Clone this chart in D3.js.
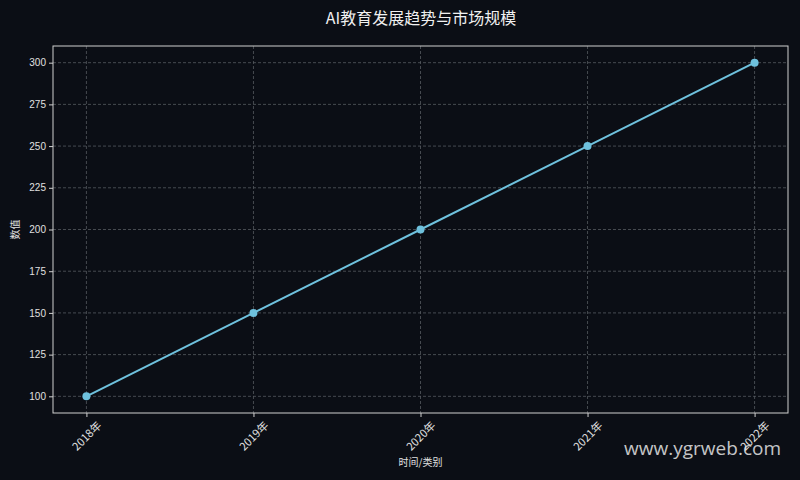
<!DOCTYPE html>
<html>
<head>
<meta charset="utf-8">
<script src="https://cdn.jsdelivr.net/npm/d3@7"></script>
<style>
  body { margin: 0; background: #0b0e15; }
  text { font-family: "Noto Sans CJK SC", "DejaVu Sans", sans-serif; }
</style>
</head>
<body>
<script>
// Chart data
var categories = ["2018年", "2019年", "2020年", "2021年", "2022年"];
var values = [100, 150, 200, 250, 300];
var yTicks = [100, 125, 150, 175, 200, 225, 250, 275, 300];

var margin = {top: 46, right: 12, bottom: 67, left: 53},
    width = 800 - margin.left - margin.right,
    height = 480 - margin.top - margin.bottom;

var root = d3.select("body")
             .append("svg")
             .attr("width", 800)
             .attr("height", 480)
             .style("background", "#0b0e15");

var svg = root.append("g")
              .attr("transform", "translate(" + margin.left + "," + margin.top + ")");

var data = categories.map(function(c, i) { return {cat: c, idx: i, value: values[i]}; });

// Index-based x scale with some padding like matplotlib
var xScale = d3.scaleLinear()
               .domain([-0.2, categories.length - 1 + 0.2])
               .range([0, width]);
var yScale = d3.scaleLinear()
               .domain([90, 310])
               .range([height, 0]);

// Grid lines
svg.append("g")
   .selectAll("line")
   .data(yTicks)
   .enter()
   .append("line")
   .attr("x1", 0)
   .attr("x2", width)
   .attr("y1", function(d) { return yScale(d); })
   .attr("y2", function(d) { return yScale(d); })
   .attr("stroke", "#555a60")
   .attr("stroke-width", 0.8)
   .attr("stroke-dasharray", "3,2");

svg.append("g")
   .selectAll("line")
   .data(data)
   .enter()
   .append("line")
   .attr("x1", function(d) { return xScale(d.idx); })
   .attr("x2", function(d) { return xScale(d.idx); })
   .attr("y1", 0)
   .attr("y2", height)
   .attr("stroke", "#555a60")
   .attr("stroke-width", 0.8)
   .attr("stroke-dasharray", "3,2");

// Axes
var xAxis = d3.axisBottom(xScale)
              .tickValues(d3.range(categories.length))
              .tickFormat(function(i) { return categories[i]; })
              .tickSize(4)
              .tickSizeOuter(0);
var gx = svg.append("g")
            .attr("transform", "translate(0," + height + ")")
            .call(xAxis);
gx.select(".domain").remove();
gx.selectAll("line").attr("stroke", "#d0d0d0");
// Labels rotated 45 degrees, centred under each tick
gx.selectAll("text")
  .attr("fill", "#e0e0e0")
  .style("font-size", "11px")
  .style("font-family", "'Noto Sans CJK SC', sans-serif")
  .attr("text-anchor", "middle")
  .attr("x", 0)
  .attr("y", 0)
  .attr("dy", "0.35em")
  .attr("transform", "translate(0,23) rotate(-45)");

var yAxis = d3.axisLeft(yScale)
              .tickValues(yTicks)
              .tickSize(4)
              .tickSizeOuter(0);
var gy = svg.append("g").call(yAxis);
gy.select(".domain").remove();
gy.selectAll("line").attr("stroke", "#d0d0d0");
gy.selectAll("text")
  .attr("fill", "#e0e0e0")
  .style("font-size", "10px")
  .style("font-family", "'Liberation Sans', Arial, sans-serif");

// Frame
svg.append("rect")
   .attr("x", 0)
   .attr("y", 0)
   .attr("width", width)
   .attr("height", height)
   .attr("fill", "none")
   .attr("stroke", "#d0d0d0")
   .attr("stroke-width", 1);

// Line and markers
var line = d3.line()
             .x(function(d) { return xScale(d.idx); })
             .y(function(d) { return yScale(d.value); });

svg.append("path")
   .datum(data)
   .attr("d", line)
   .attr("fill", "none")
   .attr("stroke", "#6ec1dd")
   .attr("stroke-width", 2);

svg.selectAll("circle")
   .data(data)
   .enter()
   .append("circle")
   .attr("cx", function(d) { return xScale(d.idx); })
   .attr("cy", function(d) { return yScale(d.value); })
   .attr("r", 4)
   .attr("fill", "#6ec1dd");

// Titles
root.append("text")
    .attr("x", 421)
    .attr("y", 24)
    .attr("text-anchor", "middle")
    .attr("fill", "#f0f0f0")
    .style("font-size", "16px")
    .text("AI教育发展趋势与市场规模");

root.append("text")
    .attr("x", margin.left + width / 2)
    .attr("y", 466)
    .attr("text-anchor", "middle")
    .attr("fill", "#e0e0e0")
    .style("font-size", "10px")
    .text("时间/类别");

root.append("text")
    .attr("transform", "translate(19," + (margin.top + height / 2) + ") rotate(-90)")
    .attr("text-anchor", "middle")
    .attr("fill", "#e0e0e0")
    .style("font-size", "10px")
    .text("数值");

// Watermark
root.append("text")
    .attr("x", 781)
    .attr("y", 455)
    .attr("text-anchor", "end")
    .attr("fill", "#e8e8e8")
    .attr("fill-opacity", 0.85)
    .style("font-size", "19px")
    .style("font-family", "'Open Sans', 'DejaVu Sans', sans-serif")
    .text("www.ygrweb.com");
</script>
</body>
</html>
